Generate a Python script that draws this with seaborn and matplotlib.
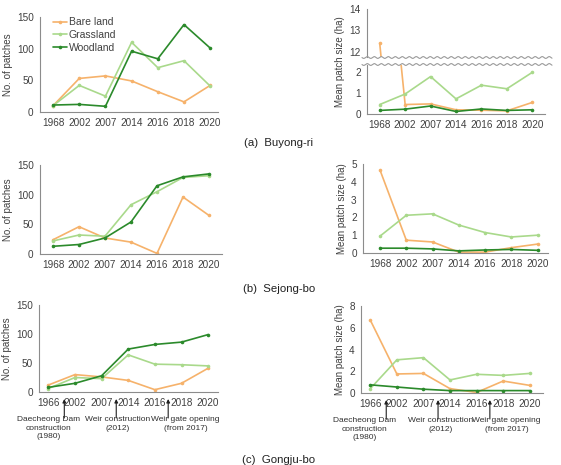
import matplotlib
matplotlib.use("Agg")
import matplotlib.pyplot as plt
import numpy as np
import pandas as pd
import seaborn as sns
from matplotlib.lines import Line2D

# %% data
years_ab = ["1968", "2002", "2007", "2014", "2016", "2018", "2020"]
years_c = ["1966", "2002", "2007", "2014", "2016", "2018", "2020"]
classes = ["Bare land", "Grassland", "Woodland"]

# (a) Buyong-ri
a_patch_bare = [10, 53, 57, 49, 32, 16, 42]
a_patch_grass = [10, 42, 25, 110, 70, 81, 41]
a_patch_wood = [11, 12, 9, 96, 84, 138, 101]
a_size_bare = [12.4, 0.45, 0.48, 0.2, 0.18, 0.15, 0.55]
a_size_grass = [0.45, 0.95, 1.78, 0.72, 1.37, 1.2, 1.98]
a_size_wood = [0.17, 0.23, 0.38, 0.12, 0.24, 0.17, 0.2]

# (b) Sejong-bo
b_patch_bare = [24, 46, 27, 20, 1, 96, 65]
b_patch_grass = [22, 32, 30, 83, 105, 129, 132]
b_patch_wood = [13, 16, 27, 54, 115, 130, 135]
b_size_bare = [4.65, 0.72, 0.62, 0.05, 0.05, 0.3, 0.5]
b_size_grass = [0.95, 2.12, 2.2, 1.57, 1.15, 0.9, 1.0]
b_size_wood = [0.27, 0.27, 0.23, 0.12, 0.17, 0.2, 0.15]

# (c) Gongju-bo
c_patch_bare = [12, 30, 26, 20, 4, 15, 41]
c_patch_grass = [6, 25, 23, 64, 48, 47, 45]
c_patch_wood = [8, 15, 28, 74, 82, 86, 99]
c_size_bare = [6.7, 1.75, 1.8, 0.4, 0.05, 1.1, 0.7]
c_size_grass = [0.4, 3.05, 3.25, 1.2, 1.72, 1.62, 1.8]
c_size_wood = [0.75, 0.55, 0.35, 0.22, 0.22, 0.22, 0.22]

events = ["Daecheong Dam\nconstruction\n(1980)", "Weir construction\n(2012)",
          "Weir gate opening\n(from 2017)"]

# %% styling
sns.set_style("white")
plt.rcParams["font.family"] = ["Liberation Sans", "DejaVu Sans"]
palette = {"Bare land": "#f6b26b", "Grassland": "#a9d98b", "Woodland": "#2b8a2b"}
txt = "#404040"
spine = "#8c8c8c"

W, H = 561, 465
fig = plt.figure(figsize=(W / 100, H / 100), dpi=100)


def box(x0, x1, ytop, ybot):
    return [x0 / W, (H - ybot) / H, (x1 - x0) / W, (ybot - ytop) / H]


def to_long(years, bare, grass, wood):
    return pd.DataFrame({
        "year": years * 3,
        "value": bare + grass + wood,
        "cls": ["Bare land"] * 7 + ["Grassland"] * 7 + ["Woodland"] * 7,
    })


def draw(ax, df, ylim, yticks, xlim, ylabel=None, legend=False, xlabels=True):
    sns.lineplot(data=df, x="year", y="value", hue="cls", palette=palette,
                 marker="o", markersize=2.6, markeredgewidth=0, linewidth=1.2,
                 ax=ax, legend=legend, sort=False)
    ax.set_ylim(*ylim)
    ax.set_xlim(*xlim)
    ax.set_yticks(yticks)
    ax.set_xlabel("")
    ax.set_ylabel(ylabel if ylabel else "", fontsize=7, color=txt, labelpad=3)
    for s in ["top", "right"]:
        ax.spines[s].set_visible(False)
    for s in ["left", "bottom"]:
        ax.spines[s].set_color(spine)
        ax.spines[s].set_linewidth(0.8)
    ax.tick_params(axis="both", labelsize=7.2, colors=txt, length=2.5,
                   width=0.7, pad=2, color=spine)
    if not xlabels:
        ax.tick_params(axis="x", labelbottom=False, bottom=False)
        ax.spines["bottom"].set_visible(False)


def caption(y, s):
    fig.text(279 / W, (H - y) / H, s, ha="center", va="center",
             fontsize=8.2, color="#202020")


# %% row (a)
ax = fig.add_axes(box(40, 218, 17, 112))
draw(ax, to_long(years_ab, a_patch_bare, a_patch_grass, a_patch_wood),
     (0, 150), [0, 50, 100, 150], (-0.5, 6.3), "No. of patches", legend=True)
leg = ax.legend(loc="upper left", bbox_to_anchor=(0.05, 1.04), frameon=False,
                fontsize=7.5, handlelength=1.3, handletextpad=0.2,
                labelspacing=0.25, borderaxespad=0)
for t in leg.get_texts():
    t.set_color(txt)

df_a = to_long(years_ab, a_size_bare, a_size_grass, a_size_wood)
ax_top = fig.add_axes(box(367, 545, 9, 57))
draw(ax_top, df_a, (11.76, 14), [12, 13, 14], (-0.5, 6.5), xlabels=False)
ax_bot = fig.add_axes(box(367, 545, 65, 114))
draw(ax_bot, df_a, (0, 2.33), [0, 1, 2], (-0.5, 6.5))
fig.text(340 / W, (H - 62) / H, "Mean patch size (ha)", rotation=90,
         ha="center", va="center", fontsize=7, color=txt)

# wavy break marks
xs = np.linspace(362, 552, 300)
for yb in (57.5, 64.5):
    ys = yb + 0.9 * np.sin((xs - 362) / 7.0 * 2 * np.pi)
    fig.add_artist(Line2D(xs / W, (H - ys) / H, color="#9a9a9a", lw=0.8))

caption(143, "(a)  Buyong-ri")

# %% row (b)
ax = fig.add_axes(box(40, 222, 165, 254))
draw(ax, to_long(years_ab, b_patch_bare, b_patch_grass, b_patch_wood),
     (0, 150), [0, 50, 100, 150], (-0.5, 6.5), "No. of patches")
ax = fig.add_axes(box(363, 548, 164, 253))
draw(ax, to_long(years_ab, b_size_bare, b_size_grass, b_size_wood),
     (0, 5), [0, 1, 2, 3, 4, 5], (-0.65, 6.4), "Mean patch size (ha)")
caption(289, "(b)  Sejong-bo")

# %% row (c)
arrow_x = [0.6, 2.55, 4.5]

ax_cl = fig.add_axes(box(39, 218, 305, 392))
draw(ax_cl, to_long(years_c, c_patch_bare, c_patch_grass, c_patch_wood),
     (0, 150), [0, 50, 100, 150], (-0.35, 6.37), "No. of patches")
ax_cr = fig.add_axes(box(361, 543, 306, 393))
draw(ax_cr, to_long(years_c, c_size_bare, c_size_grass, c_size_wood),
     (0, 8), [0, 2, 4, 6, 8], (-0.35, 6.5), "Mean patch size (ha)")

for ax, tx in ((ax_cl, [0.0, 2.6, 5.15]), (ax_cr, [-0.2, 2.66, 5.13])):
    h = ax.get_position().height * H
    for ax_x, t_x, label in zip(arrow_x, tx, events):
        ax.annotate("", xy=(ax_x, -7 / h), xytext=(ax_x, -26 / h),
                    xycoords=("data", "axes fraction"),
                    textcoords=("data", "axes fraction"),
                    arrowprops=dict(arrowstyle="-|>", color="#202020",
                                    lw=0.8, mutation_scale=5,
                                    shrinkA=0, shrinkB=0))
        ax.text(t_x, -24 / h, label, transform=ax.get_xaxis_transform(),
                ha="center", va="top", fontsize=6, color="#303030",
                linespacing=1.3)

caption(460, "(c)  Gongju-bo")

fig.savefig("out.png", dpi=100)
